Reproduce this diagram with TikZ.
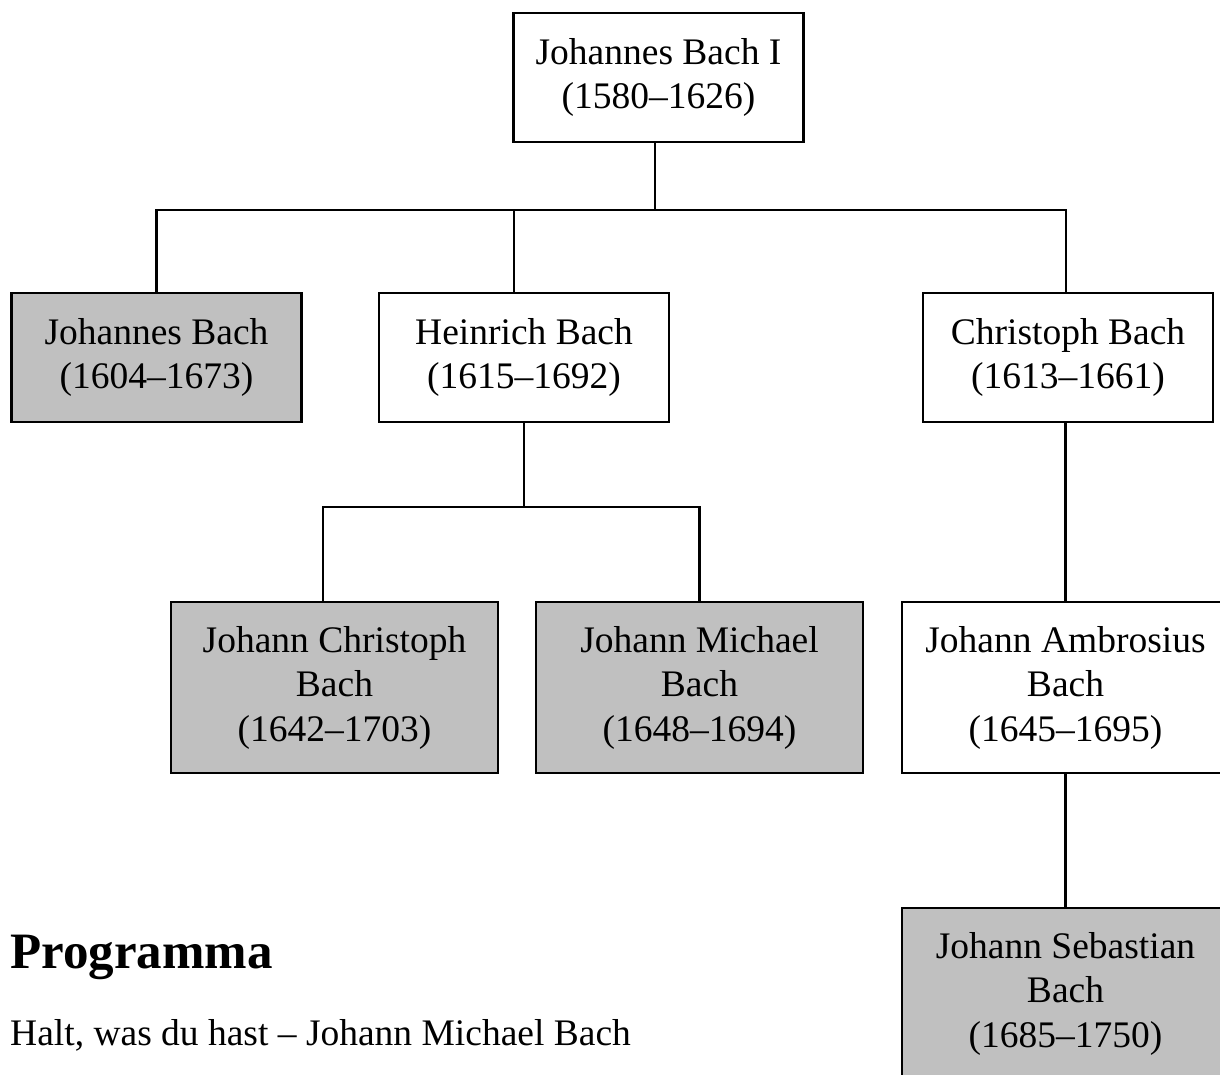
\documentclass[tikz,border=0pt]{standalone}
\usepackage{fontspec}
\setmainfont{Liberation Serif}
\definecolor{boxgray}{RGB}{192,192,192}
\begin{document}
\begin{tikzpicture}[x=1pt,y=-1pt,
  famtext/.style={font=\fontsize{37.5}{44.5}\selectfont},
  person/.style={draw=black, line width=2.5pt, famtext, align=center, inner sep=0pt},
  twoline/.style={person, minimum width=290pt, minimum height=129pt},
  threeline/.style={person, minimum width=327pt, minimum height=171pt},
  dead/.style={fill=boxgray},
  alive/.style={fill=white},
  link/.style={line width=2.5pt, line join=miter}]
\useasboundingbox (0,0) rectangle (1220,1075);
\clip (0,0) rectangle (1220,1075);
\fill[white] (0,0) rectangle (1220,1075);

\node[twoline, alive] (top) at (658.5,77.5) {Johannes Bach I\\(1580–1626)};
\node[twoline, dead] (jb) at (156.5,357.5) {Johannes Bach\\(1604–1673)};
\node[twoline, alive] (hb) at (524,357.5) {Heinrich Bach\\(1615–1692)};
\node[twoline, alive] (cb) at (1068,357.5) {Christoph Bach\\(1613–1661)};
\node[threeline, dead] (jcb) at (334.5,687.5) {Johann Christoph\\Bach\\(1642–1703)};
\node[threeline, dead] (jmb) at (699.5,687.5) {Johann Michael\\Bach\\(1648–1694)};
\node[threeline, alive] (jab) at (1065.5,687.5) {Johann Ambrosius\\Bach\\(1645–1695)};
\node[threeline, dead] (jsb) at (1065.5,993.5) {Johann Sebastian\\Bach\\(1685–1750)};

\coordinate (bus1) at (655,210);
\coordinate (bus2) at (524,507);
\draw[link] (top.south -| bus1) -- (bus1);
\draw[link] (jb.north) |- (bus1) -| ([xshift=-2pt]cb.north);
\draw[link] ([xshift=-10pt]hb.north) -- ([xshift=-10pt]hb.north |- bus1);
\draw[link] (hb.south) -- (bus2);
\draw[link] ([xshift=-11.5pt]jcb.north) |- (bus2) -| (jmb.north);
\draw[link] (jab.north |- cb.south) -- (jab.north);
\draw[link] (jab.south) -- (jsb.north);

\node[anchor=base west, inner sep=0pt, font=\fontsize{51}{60}\selectfont\bfseries] (head) at (10,968) {Programma};
\node[anchor=base west, inner sep=0pt, famtext] (prog) at (10,1045) {Halt, was du hast – Johann Michael Bach};
\end{tikzpicture}
\end{document}
